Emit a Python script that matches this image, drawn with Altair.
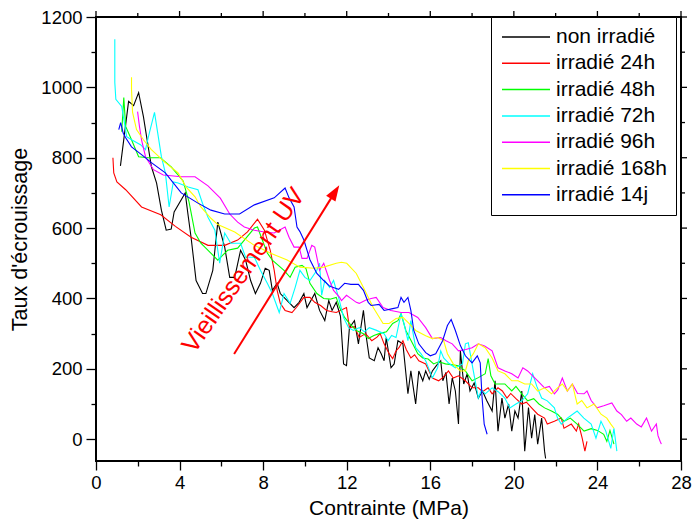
import altair as alt
import pandas as pd

series = ["non irradié", "irradié 24h", "irradié 48h", "irradié 72h",
          "irradié 96h", "irradié 168h", "irradié 14j"]
colors = ["#000000", "#ff0000", "#00ff00", "#00ffff", "#ff00ff", "#ffff00", "#0000ff"]

black_pts = [(1.17,777),(1.56,960),(1.8,948),(2.04,985),(2.27,917),(2.65,775),(2.9,728),(3.13,651),
    (3.36,594),(3.6,597),(3.74,646),(4.27,700),(4.4,640),(4.55,574),(4.79,451),(5.1,414),(5.26,414),
    (5.59,480),(5.83,617),(6.16,546),(6.4,460),(6.64,460),(6.92,537),(7.16,509),(7.4,451),(7.63,414),
    (7.87,443),(8.1,486),(8.29,480),(8.44,423),(8.67,443),(8.82,414),(9.15,394),(9.48,374),(9.72,389),
    (9.95,414),(10.1,374),(10.47,414),(10.7,366),(10.95,337),(11.14,394),(11.3,366),(11.5,389),
    (11.7,350),(11.85,214),(11.99,209),(12.13,317),(12.37,337),(12.56,271),(12.8,366),(12.94,289),
    (13.08,231),(13.32,223),(13.5,260),(13.65,243),(13.79,223),(13.89,289),(14.12,203),(14.27,214),
    (14.45,280),(14.69,271),(14.93,129),(15.07,194),(15.3,100),(15.45,194),(15.64,166),(15.78,194),
    (15.95,170),(16.1,194),(16.3,210),(16.5,223),(16.6,166),(16.75,190),(16.9,100),(17.05,174),
    (17.2,137),(17.35,43),(17.44,251),(17.6,157),(17.77,186),(17.9,137),(18.1,160),(18.3,117),
    (18.5,137),(18.7,110),(18.96,80),(19.1,166),(19.24,23),(19.43,117),(19.57,60),(19.75,100),
    (19.9,23),(20.05,80),(20.2,60),(20.38,137),(20.52,-34),(20.7,90),(20.85,3),(21.0,70),(21.14,-14),
    (21.33,60),(21.47,-34),(21.52,-55)]

red_pts = [(0.81,800),(0.85,757),(1.0,731),(1.42,709),(2.18,660),(3.1,638),(3.8,605),(4.55,574),
    (5.36,551),(6.16,551),(6.78,566),(7.25,589),(7.73,625),(8.06,594),(8.34,537),(8.53,480),(8.67,423),
    (8.82,386),(9.05,366),(9.38,360),(9.6,375),(9.95,403),(10.24,403),(10.47,389),(10.75,380),
    (11.04,366),(11.3,362),(11.5,360),(11.99,374),(12.13,317),(12.37,320),(12.6,289),(12.9,300),
    (13.2,280),(13.45,290),(13.6,300),(13.79,271),(14.03,243),(14.2,229),(14.35,250),(14.5,260),
    (14.69,280),(14.85,255),(15.07,231),(15.25,240),(15.45,223),(15.78,214),(16.1,174),(16.4,166),
    (16.6,175),(16.87,194),(17.1,174),(17.35,180),(17.68,166),(18.0,146),(18.3,146),(18.5,135),
    (18.77,146),(18.96,129),(19.24,146),(19.45,137),(19.67,117),(19.85,130),(20.1,115),(20.38,100),
    (20.6,105),(20.85,89),(21.14,71),(21.47,60),(21.6,43),(21.94,51),(22.27,60),(22.4,31),(22.75,43),
    (22.99,23),(23.1,43),(23.27,3),(23.4,-34),(23.5,-6)]

green_pts = [(1.23,874),(1.33,971),(1.42,889),(1.7,851),(2.04,803),(2.51,800),(3.08,800),(3.6,774),
    (4.17,734),(4.45,675),(4.74,586),(5.02,557),(5.21,546),(5.83,509),(6.3,537),(6.78,543),(7.1,566),
    (7.58,600),(7.73,603),(7.96,566),(8.2,529),(8.44,509),(9.0,480),(9.29,460),(9.53,489),(9.86,494),
    (10.05,485),(10.24,443),(10.57,414),(10.9,400),(11.2,398),(11.5,403),(11.66,374),(11.9,346),
    (12.13,329),(12.46,309),(12.8,300),(13.03,286),(13.3,295),(13.55,300),(13.9,305),(14.2,329),
    (14.45,337),(14.6,357),(14.83,309),(15.16,271),(15.4,243),(15.64,231),(15.9,228),(16.16,214),
    (16.4,220),(16.73,214),(17.0,212),(17.35,209),(17.68,194),(18.0,166),(18.3,175),(18.63,186),
    (18.77,229),(18.9,180),(19.1,157),(19.57,157),(19.9,137),(20.1,150),(20.38,129),(20.66,109),
    (20.95,115),(21.2,100),(21.47,89),(21.8,80),(22.09,71),(22.4,51),(22.7,60),(23.03,43),(23.36,23),
    (23.7,30),(24.0,25),(24.3,14),(24.45,-6),(24.6,25),(24.79,-14)]

cyan_pts = [(0.9,1137),(0.9,1014),(0.95,966),(1.23,946),(1.47,860),(1.7,851),(2.13,837),(2.37,823),
    (2.51,860),(2.8,929),(3.13,803),(3.32,757),(3.5,660),(3.7,731),(3.93,728),(4.41,717),(4.88,709),
    (5.1,670),(5.36,631),(5.69,594),(5.92,500),(6.16,586),(6.45,557),(6.92,557),(7.16,517),(7.58,517),
    (7.87,480),(8.2,443),(8.44,414),(8.77,360),(9.0,414),(9.29,386),(9.53,431),(9.76,480),(10.0,460),
    (10.24,451),(10.57,480),(10.7,500),(10.8,409),(10.95,451),(11.18,431),(11.37,451),(11.61,403),
    (11.85,346),(12.09,317),(12.32,309),(12.6,317),(12.85,305),(13.08,317),(13.4,310),(13.79,300),
    (13.98,280),(14.15,295),(14.36,289),(14.6,357),(14.74,329),(14.93,280),(15.07,337),(15.3,260),
    (15.55,243),(15.78,223),(16.1,174),(16.35,203),(16.5,251),(16.64,231),(16.9,215),(17.2,203),
    (17.54,214),(17.68,271),(17.82,274),(18.06,194),(18.3,117),(18.45,140),(18.63,129),(18.96,146),
    (19.25,135),(19.57,117),(19.81,89),(20.1,100),(20.38,109),(20.66,129),(20.9,186),(21.1,150),
    (21.33,117),(21.6,109),(21.94,89),(22.09,60),(22.27,43),(22.56,60),(22.8,70),(23.03,80),
    (23.35,60),(23.7,43),(23.93,3),(24.17,51),(24.4,23),(24.64,-26),(24.79,31),(24.93,-34)]

magenta_pts = [(1.99,931),(2.08,889),(2.18,851),(2.37,803),(2.75,766),(3.22,751),(4.08,746),
    (4.74,746),(5.36,720),(5.95,685),(6.4,640),(6.78,617),(7.1,603),(7.58,594),(8.06,589),(8.53,586),
    (9.05,603),(9.24,574),(9.48,546),(9.72,546),(9.86,514),(10.1,514),(10.33,551),(10.47,546),
    (10.7,480),(10.9,500),(11.18,451),(11.37,423),(11.66,403),(11.75,394),(11.99,409),(12.13,403),
    (12.46,389),(12.6,386),(12.9,395),(13.17,400),(13.41,403),(13.74,374),(14.12,366),(14.6,360),
    (14.98,360),(15.4,346),(15.78,317),(16.1,286),(16.5,289),(16.75,280),(17.05,271),(17.35,251),
    (17.7,255),(18.0,260),(18.3,271),(18.6,265),(18.96,251),(19.24,203),(19.57,194),(19.9,186),
    (20.2,174),(20.43,203),(20.66,194),(20.9,180),(21.14,166),(21.47,146),(21.7,150),(21.94,129),
    (22.1,140),(22.32,174),(22.56,137),(22.8,157),(23.05,130),(23.36,129),(23.5,137),(23.7,110),
    (23.98,89),(24.3,95),(24.69,103),(24.93,80),(25.15,70),(25.4,51),(25.6,60),(25.88,43),(26.1,35),
    (26.35,60),(26.59,23),(26.82,43),(26.9,10),(27.0,-6),(27.06,-14)]

yellow_pts = [(1.7,1029),(1.7,994),(1.75,929),(1.94,880),(2.27,851),(2.65,823),(3.32,786),(3.93,757),
    (4.31,717),(4.74,689),(5.02,660),(5.5,628),(5.83,610),(6.64,589),(7.58,551),(8.34,529),(9.15,509),
    (9.76,489),(10.43,486),(10.9,489),(11.5,500),(11.75,503),(12.0,500),(12.46,471),(12.8,431),
    (13.27,374),(13.74,329),(14.03,329),(14.36,343),(14.69,346),(14.98,329),(15.3,309),(15.78,294),
    (16.1,286),(16.35,289),(16.64,280),(16.82,243),(17.1,214),(17.44,194),(17.68,194),(17.82,223),
    (18.06,243),(18.3,271),(18.63,260),(18.96,231),(19.24,194),(19.57,186),(19.9,166),(20.2,166),
    (20.52,157),(20.85,157),(21.14,137),(21.47,146),(21.8,129),(22.09,146),(22.32,157),(22.56,137),
    (22.8,157),(23.03,100),(23.25,110),(23.5,89),(23.84,100),(24.17,71),(24.45,60),(24.64,43),(24.79,31)]

blue_pts = [(1.09,880),(1.18,900),(1.3,870),(1.42,857),(1.7,831),(2.18,809),(2.65,786),(3.32,757),
    (4.08,700),(4.88,671),(5.5,651),(6.16,640),(6.87,640),(7.58,666),(8.53,686),(9.05,714),(9.24,686),
    (9.48,660),(9.62,603),(9.76,590),(9.95,566),(10.24,510),(10.57,471),(10.9,451),(11.18,435),
    (11.61,426),(11.9,443),(12.2,440),(12.56,440),(12.8,423),(13.03,389),(13.17,380),(13.55,383),
    (13.79,366),(14.2,371),(14.45,374),(14.6,403),(14.74,389),(14.93,403),(15.07,366),(15.21,309),
    (15.45,271),(15.78,246),(16.0,237),(16.26,243),(16.59,280),(16.82,323),(17.0,340),(17.2,309),
    (17.44,266),(17.68,237),(18.0,217),(18.25,237),(18.39,217),(18.48,117),(18.58,43),(18.72,14)]

all_pts = [black_pts, red_pts, green_pts, cyan_pts, magenta_pts, yellow_pts, blue_pts]

# annotation (arrow and label), in data units
arrow_tail = (6.61, 242)
arrow_head = (11.39, 698)
arrow_angle = 32
label_text = "Vieillissement UV"
label_pos = (7.05, 480)

x_ticks = list(range(0, 29, 2))
y_ticks = list(range(0, 1201, 100))

FONT = "Liberation Sans"
W, H = 585, 444

rows = []
for name, pts in zip(series, all_pts):
    for i, (x, y) in enumerate(pts):
        rows.append({"serie": name, "x": x, "y": y, "i": i})
df = pd.DataFrame(rows)

xscale = alt.Scale(domain=[0, 28], nice=False, zero=False)
yscale = alt.Scale(domain=[-62, 1200], nice=False, zero=False)

x_axis = alt.Axis(orient="bottom", values=x_ticks, labelFlush=False,
                  labelExpr="datum.value % 4 == 0 ? datum.label : ''",
                  tickSize={"condition": {"test": "datum.value % 4 == 0", "value": 9}, "value": 5},
                  grid=False, domain=False, tickColor="black", tickWidth=1.3,
                  labelFont=FONT, labelFontSize=18.5, labelColor="black", labelPadding=3,
                  title="Contrainte (MPa)", titleFont=FONT, titleFontSize=21,
                  titleFontWeight="normal", titleColor="black", titlePadding=6)
y_axis = alt.Axis(orient="left", values=y_ticks, format="d", labelFlush=False,
                  labelExpr="datum.value % 200 == 0 ? datum.label : ''",
                  tickSize={"condition": {"test": "datum.value % 200 == 0", "value": 10}, "value": 5},
                  grid=False, domain=False, tickColor="black", tickWidth=1.3,
                  labelFont=FONT, labelFontSize=18.5, labelColor="black", labelPadding=4,
                  title="Taux d'écrouissage", titleFont=FONT, titleFontSize=21.5,
                  titleFontWeight="normal", titleColor="black", titlePadding=9)

lines = alt.Chart(df).mark_line(strokeWidth=1.1, clip=True).encode(
    x=alt.X("x:Q", scale=xscale, axis=x_axis),
    y=alt.Y("y:Q", scale=yscale, axis=y_axis),
    color=alt.Color("serie:N", scale=alt.Scale(domain=series, range=colors),
                    sort=series,
                    legend=alt.Legend(title=None, orient="none", legendX=W - 190, legendY=0,
                                      fillColor="white", strokeColor="black", padding=9,
                                      symbolType="stroke", symbolSize=2304,
                                      symbolStrokeWidth=1.5, symbolOffset=1,
                                      clipHeight=22, rowPadding=4.3, labelOffset=5,
                                      labelFont=FONT, labelFontSize=21, labelColor="black",
                                      labelLimit=300)),
    order="i:Q",
)

# opposite-side ticks (top / right), from the same tick values
xt_major = pd.DataFrame({"v": [v for v in x_ticks if v % 4 == 0]})
xt_minor = pd.DataFrame({"v": [v for v in x_ticks if v % 4 != 0]})
yt_major = pd.DataFrame({"v": [v for v in y_ticks if v % 200 == 0]})
yt_minor = pd.DataFrame({"v": [v for v in y_ticks if v % 200 != 0]})

def top_ticks(d, L):
    return alt.Chart(d).mark_rule(color="black", strokeWidth=1.3).encode(
        x=alt.X("v:Q", axis=None), y=alt.value(0), y2=alt.value(-L))

def right_ticks(d, L):
    return alt.Chart(d).mark_rule(color="black", strokeWidth=1.3).encode(
        y=alt.Y("v:Q", axis=None), x=alt.value(W), x2=alt.value(W + L))

arrow_df = pd.DataFrame([{"x": arrow_tail[0], "y": arrow_tail[1],
                          "x2": arrow_head[0], "y2": arrow_head[1]}])
arrow = alt.Chart(arrow_df).mark_rule(color="#ff0000", strokeWidth=2).encode(
    x=alt.X("x:Q", axis=None), y=alt.Y("y:Q", axis=None), x2="x2:Q", y2="y2:Q")
head_df = pd.DataFrame([{"x": arrow_head[0], "y": arrow_head[1]}])
head = alt.Chart(head_df).mark_point(
    shape="M0,-1L0.55,0.6L-0.55,0.6Z", filled=True, size=400, opacity=1,
    color="#ff0000", angle=arrow_angle).encode(
    x=alt.X("x:Q", axis=None), y=alt.Y("y:Q", axis=None))
label_df = pd.DataFrame([{"x": label_pos[0], "y": label_pos[1], "t": label_text}])
label = alt.Chart(label_df).mark_text(
    font=FONT, fontSize=25, color="#ff0000", angle=305, align="center",
    baseline="middle").encode(
    x=alt.X("x:Q", axis=None), y=alt.Y("y:Q", axis=None), text="t:N")

chart = alt.layer(
    lines,
    top_ticks(xt_major, 6), top_ticks(xt_minor, 4),
    right_ticks(yt_major, 6), right_ticks(yt_minor, 4),
    arrow, head, label,
).resolve_axis(x="independent", y="independent").properties(
    width=W, height=H,
    autosize=alt.AutoSizeParams(type="none"),
    padding={"left": 88, "top": 9, "right": 11, "bottom": 58},
    background="white",
).configure_view(stroke="#000000", strokeWidth=2)

chart.save("out.html", embed_options={"renderer": "svg", "actions": False})
